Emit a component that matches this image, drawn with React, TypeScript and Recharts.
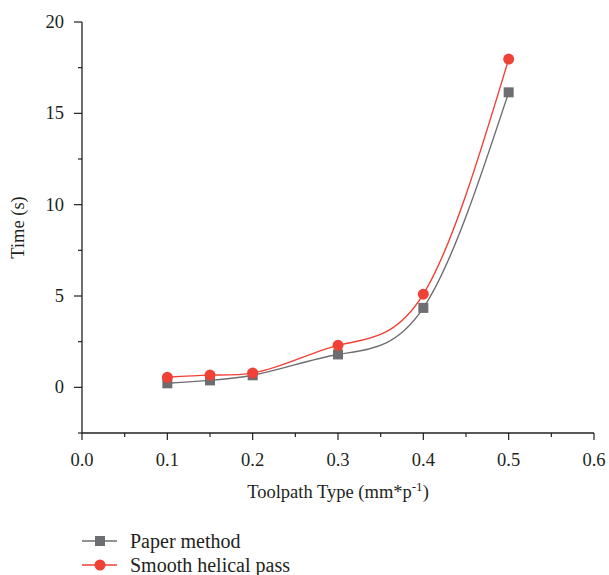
import { LineChart, Line, XAxis, YAxis } from "recharts";

// feed rate per pass (mm*p^-1)
const feedRates = [0.1, 0.15, 0.2, 0.3, 0.4, 0.5];
const paperMethod = [0.22, 0.38, 0.66, 1.8, 4.35, 16.15];
const smoothHelical = [0.55, 0.67, 0.78, 2.3, 5.1, 17.97];

const xTicks = [0, 0.05, 0.1, 0.15, 0.2, 0.25, 0.3, 0.35, 0.4, 0.45, 0.5, 0.55, 0.6];
const yTicks = [-2.5, 0, 2.5, 5, 7.5, 10, 12.5, 15, 17.5, 20];

const data = feedRates.map((x, i) => ({
  x,
  paper: paperMethod[i],
  smooth: smoothHelical[i],
}));

const INK = "#231f20";
const GRAY = "#6d6e71";
const RED = "#ef4136";
const FONT = "'Liberation Serif', 'Times New Roman', serif";

// natural cubic spline parameterised on x, so uneven spacing doesn't wobble
function splineX(context: any) {
  let xs: number[] = [];
  let ys: number[] = [];
  return {
    areaStart() {},
    areaEnd() {},
    lineStart() {
      xs = [];
      ys = [];
    },
    point(x: number, y: number) {
      xs.push(+x);
      ys.push(+y);
    },
    lineEnd() {
      const n = xs.length;
      if (!n) return;
      context.moveTo(xs[0], ys[0]);
      if (n === 1) return;
      if (n === 2) {
        context.lineTo(xs[1], ys[1]);
        return;
      }
      const h: number[] = [];
      for (let i = 0; i < n - 1; i++) h.push(xs[i + 1] - xs[i]);
      // second derivatives, M[0] = M[n-1] = 0
      const M = new Array(n).fill(0);
      const a: number[] = [], b: number[] = [], c: number[] = [], r: number[] = [];
      for (let i = 1; i < n - 1; i++) {
        a.push(h[i - 1]);
        b.push(2 * (h[i - 1] + h[i]));
        c.push(h[i]);
        r.push(6 * ((ys[i + 1] - ys[i]) / h[i] - (ys[i] - ys[i - 1]) / h[i - 1]));
      }
      const m = b.length;
      for (let i = 1; i < m; i++) {
        const w = a[i] / b[i - 1];
        b[i] -= w * c[i - 1];
        r[i] -= w * r[i - 1];
      }
      const sol = new Array(m).fill(0);
      sol[m - 1] = r[m - 1] / b[m - 1];
      for (let i = m - 2; i >= 0; i--) sol[i] = (r[i] - c[i] * sol[i + 1]) / b[i];
      for (let i = 0; i < m; i++) M[i + 1] = sol[i];

      const d = (i: number) =>
        i < n - 1
          ? (ys[i + 1] - ys[i]) / h[i] - (h[i] * (2 * M[i] + M[i + 1])) / 6
          : (ys[i] - ys[i - 1]) / h[i - 1] + (h[i - 1] * (M[i - 1] + 2 * M[i])) / 6;

      for (let i = 0; i < n - 1; i++) {
        const k = h[i] / 3;
        context.bezierCurveTo(
          xs[i] + k,
          ys[i] + k * d(i),
          xs[i + 1] - k,
          ys[i + 1] - k * d(i + 1),
          xs[i + 1],
          ys[i + 1]
        );
      }
    },
  };
}

const XTick = (props: any) => {
  const { x, y, payload } = props;
  const v = payload.value as number;
  const major = Math.round(v * 100) % 10 === 0;
  return (
    <g>
      <line x1={x} x2={x} y1={y} y2={y + (major ? 7 : 4)} stroke={INK} strokeWidth={1.2} />
      {major && (
        <text x={x} y={y + 33} textAnchor="middle" fontFamily={FONT} fontSize={18.5} fill={INK}>
          {v.toFixed(1)}
        </text>
      )}
    </g>
  );
};

const YTick = (props: any) => {
  const { x, y, payload } = props;
  const v = payload.value as number;
  const major = v % 5 === 0;
  return (
    <g>
      <line x1={x} x2={x - (major ? 8 : 4)} y1={y} y2={y} stroke={INK} strokeWidth={1.2} />
      {major && (
        <text x={x - 18} y={y + 6} textAnchor="end" fontFamily={FONT} fontSize={18.5} fill={INK}>
          {v}
        </text>
      )}
    </g>
  );
};

const XTitle = (props: any) => {
  const { x, y, width } = props.viewBox;
  return (
    <text x={x + width / 2} y={y + 65} textAnchor="middle" fontFamily={FONT} fontSize={18.5} fill={INK}>
      Toolpath Type (mm*p
      <tspan dy={-7} fontSize={13}>-1</tspan>
      <tspan dy={7}>)</tspan>
    </text>
  );
};

const YTitle = (props: any) => {
  const { y, height } = props.viewBox;
  const cy = y + height / 2;
  return (
    <text
      x={24}
      y={cy}
      transform={`rotate(-90, 24, ${cy})`}
      textAnchor="middle"
      fontFamily={FONT}
      fontSize={18.5}
      fill={INK}
    >
      Time (s)
    </text>
  );
};

const SquareDot = (props: any) => {
  const { cx, cy } = props;
  if (cx == null || cy == null) return null;
  return <rect x={cx - 5} y={cy - 5} width={10} height={10} fill={GRAY} />;
};

const RoundDot = (props: any) => {
  const { cx, cy } = props;
  if (cx == null || cy == null) return null;
  return <circle cx={cx} cy={cy} r={5.5} fill={RED} />;
};

const legendItems = [
  { name: "Paper method", color: GRAY, shape: "square" },
  { name: "Smooth helical pass", color: RED, shape: "circle" },
];

export default function App() {
  return (
    <div style={{ position: "absolute", left: 0, top: 0, width: 609, height: 575, background: "#fff" }}>
      <LineChart
        width={609}
        height={575}
        data={data}
        margin={{ top: 22, right: 15, left: 22, bottom: 72 }}
      >
        <XAxis
          dataKey="x"
          type="number"
          domain={[0, 0.6]}
          ticks={xTicks}
          interval={0}
          tickSize={0}
          tickMargin={0}
          tickLine={false}
          tick={<XTick />}
          height={70}
          axisLine={{ stroke: INK, strokeWidth: 1.3 }}
          label={{ content: <XTitle /> }}
        />
        <YAxis
          type="number"
          domain={[-2.5, 20]}
          ticks={yTicks}
          interval={0}
          tickSize={0}
          tickMargin={0}
          tickLine={false}
          tick={<YTick />}
          width={60}
          axisLine={{ stroke: INK, strokeWidth: 1.3 }}
          label={{ content: <YTitle /> }}
        />
        <Line
          type={splineX as any}
          dataKey="paper"
          stroke={GRAY}
          strokeWidth={1.4}
          dot={<SquareDot />}
          isAnimationActive={false}
        />
        <Line
          type={splineX as any}
          dataKey="smooth"
          stroke={RED}
          strokeWidth={1.4}
          dot={<RoundDot />}
          isAnimationActive={false}
        />
      </LineChart>
      <div style={{ position: "absolute", left: 82, top: 529, fontFamily: FONT, fontSize: 20, color: INK }}>
        {legendItems.map((item) => (
          <div key={item.name} style={{ display: "flex", alignItems: "center", height: 24 }}>
            <svg width={48} height={24}>
              <line x1={0} x2={35} y1={12} y2={12} stroke={item.color} strokeWidth={1.4} />
              {item.shape === "square" ? (
                <rect x={13} y={7} width={10} height={10} fill={item.color} />
              ) : (
                <circle cx={18} cy={12} r={5.5} fill={item.color} />
              )}
            </svg>
            <span style={{ lineHeight: "24px" }}>{item.name}</span>
          </div>
        ))}
      </div>
    </div>
  );
}
